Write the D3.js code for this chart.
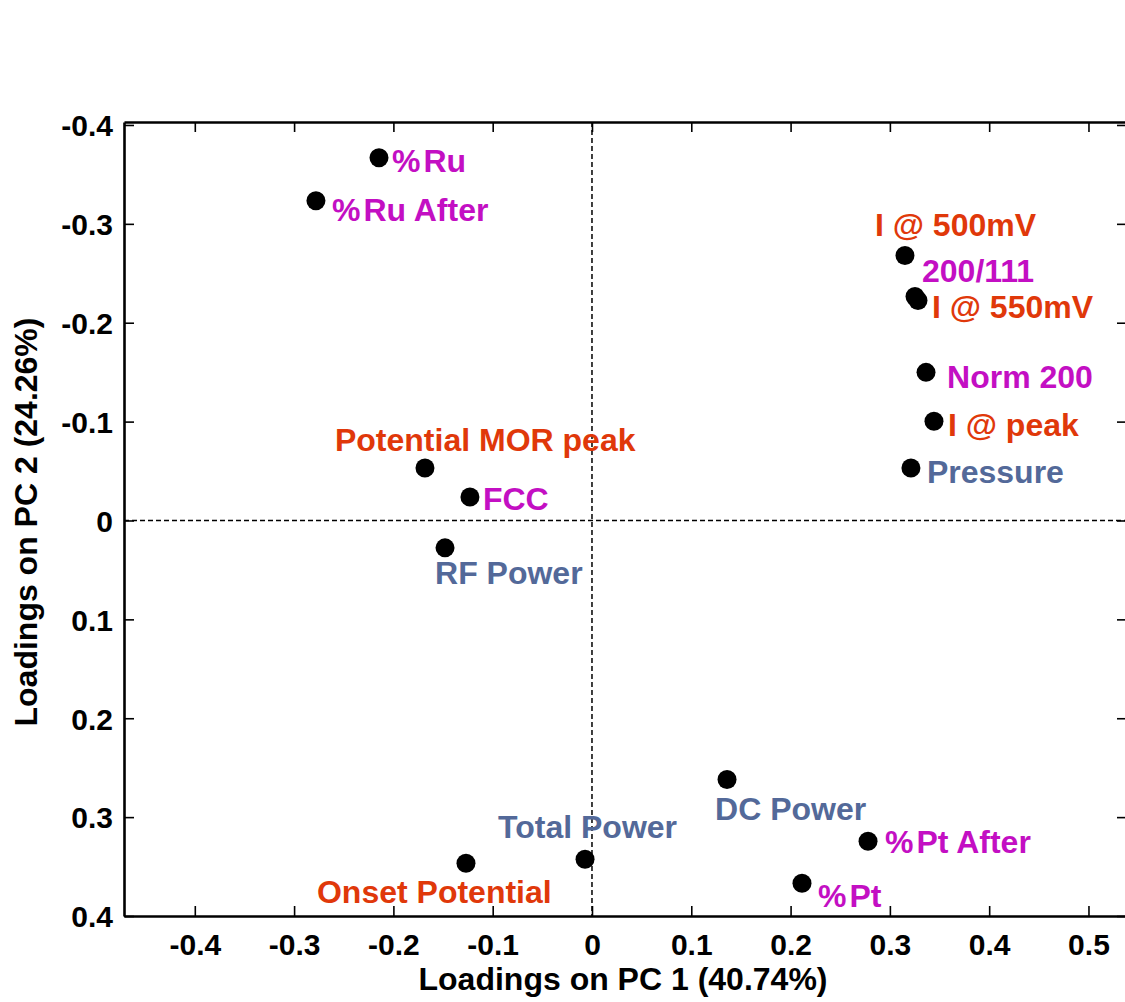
<!DOCTYPE html>
<html>
<head>
<meta charset="utf-8">
<script src="https://cdn.jsdelivr.net/npm/d3@7"></script>
<style>
  html, body { margin: 0; padding: 0; background: #fff; }
  svg { display: block; }
  text { font-family: "Liberation Sans", Arial, sans-serif; font-weight: bold; }
</style>
</head>
<body>
<svg id="chart" width="1125" height="1002"></svg>
<script>
// ---- data ----
const variables = ["%Ru", "%Ru After", "I @ 500mV", "200/111", "I @ 550mV", "Norm 200", "I @ peak", "Pressure",
  "Potential MOR peak", "FCC", "RF Power", "Total Power", "Onset Potential", "DC Power", "%Pt After", "%Pt"];
const pc1 = [-0.2145, -0.278, 0.3152, 0.3253, 0.3283, 0.3364, 0.3444, 0.3212,
  -0.1682, -0.1229, -0.148, -0.007, -0.1269, 0.136, 0.278, 0.2115];
const pc2 = [-0.3668, -0.3234, -0.268, -0.2265, -0.2225, -0.1498, -0.1004, -0.053,
  -0.053, -0.0237, 0.0277, 0.3426, 0.3466, 0.2619, 0.3244, 0.3668];
const group = ["comp", "comp", "perf", "comp", "perf", "comp", "perf", "proc",
  "perf", "comp", "proc", "proc", "perf", "proc", "comp", "comp"];
const xTicks = [-0.4, -0.3, -0.2, -0.1, 0, 0.1, 0.2, 0.3, 0.4, 0.5];
const yTicks = [-0.4, -0.3, -0.2, -0.1, 0, 0.1, 0.2, 0.3, 0.4];
const xTitle = "Loadings on PC 1 (40.74%)";
const yTitle = "Loadings on PC 2 (24.26%)";

// ---- layout (label offsets in px from the point) ----
const labelOffset = [[13, 14], [16, 20], [-30, -19], [7, -15], [14, 18], [21, 16], [14, 15], [16, 15],
  [-90, -17], [13, 13], [-10, 36], [-87, -21], [-149, 40], [-12, 41], [17, 12], [16, 24]];
const colors = { perf: "#e0380a", comp: "#c30fc3", proc: "#536999" };

const svg = d3.select("#chart");
const L = 124, R = 1127, T = 122, B = 916;
const x = d3.scaleLinear().domain([-0.4713, 0.5388]).range([L, R]);
const y = d3.scaleLinear().domain([-0.403, 0.4]).range([T, B]);
const fmt = d => d === 0 ? "0" : d.toFixed(1);

// zero dashed lines
svg.append("line").attr("x1", x(0)).attr("x2", x(0)).attr("y1", T).attr("y2", B)
  .attr("stroke", "#000").attr("stroke-width", 1.5).attr("stroke-dasharray", "5,3");
svg.append("line").attr("x1", L).attr("x2", R).attr("y1", y(0)).attr("y2", y(0))
  .attr("stroke", "#000").attr("stroke-width", 1.5).attr("stroke-dasharray", "5,3");

// axes
const gx = svg.append("g").attr("transform", `translate(0,${B})`)
  .call(d3.axisBottom(x).tickValues(xTicks).tickFormat(fmt).tickSizeInner(-10).tickSizeOuter(0).tickPadding(18));
const gxt = svg.append("g").attr("transform", `translate(0,${T})`)
  .call(d3.axisTop(x).tickValues(xTicks).tickFormat("").tickSizeInner(-10).tickSizeOuter(0));
const gy = svg.append("g").attr("transform", `translate(${L},0)`)
  .call(d3.axisLeft(y).tickValues(yTicks).tickFormat(fmt).tickSizeInner(-10).tickSizeOuter(0).tickPadding(11));
const gyr = svg.append("g").attr("transform", `translate(${R},0)`)
  .call(d3.axisRight(y).tickValues(yTicks).tickFormat("").tickSizeInner(-10).tickSizeOuter(0));
[gx, gxt, gy, gyr].forEach(g => {
  g.select(".domain").attr("stroke", "#000").attr("stroke-width", 2.6);
  g.selectAll(".tick line").attr("stroke", "#000").attr("stroke-width", 1.6);
  g.selectAll(".tick text").attr("fill", "#000").style("font-size", "30px")
    .style("font-family", "'Liberation Sans', Arial, sans-serif").style("font-weight", "bold");
});
gx.selectAll(".tick text").attr("dy", "0.71em");
gy.selectAll(".tick text").attr("dy", "0.36em");

// titles
svg.append("text").attr("x", 623).attr("y", 990).attr("text-anchor", "middle")
  .style("font-size", "32px").attr("fill", "#000").text(xTitle);
svg.append("text").attr("transform", "translate(37,522) rotate(-90)").attr("text-anchor", "middle")
  .style("font-size", "32px").attr("fill", "#000").text(yTitle);

// points
const idx = d3.range(variables.length);
svg.append("g").selectAll("circle").data(idx).join("circle")
  .attr("cx", i => x(pc1[i])).attr("cy", i => y(pc2[i])).attr("r", 9.5).attr("fill", "#000");

// labels
const lab = svg.append("g").selectAll("text").data(idx).join("text")
  .attr("x", i => x(pc1[i]) + labelOffset[i][0])
  .attr("y", i => y(pc2[i]) + labelOffset[i][1])
  .attr("fill", i => colors[group[i]])
  .style("font-size", "32px");
lab.each(function (i) {
  const t = d3.select(this);
  const s = variables[i];
  if (s.startsWith("%")) {
    t.append("tspan").text("%");
    t.append("tspan").attr("dx", 3).text(s.slice(1));
  } else {
    t.text(s);
  }
});
</script>
</body>
</html>
